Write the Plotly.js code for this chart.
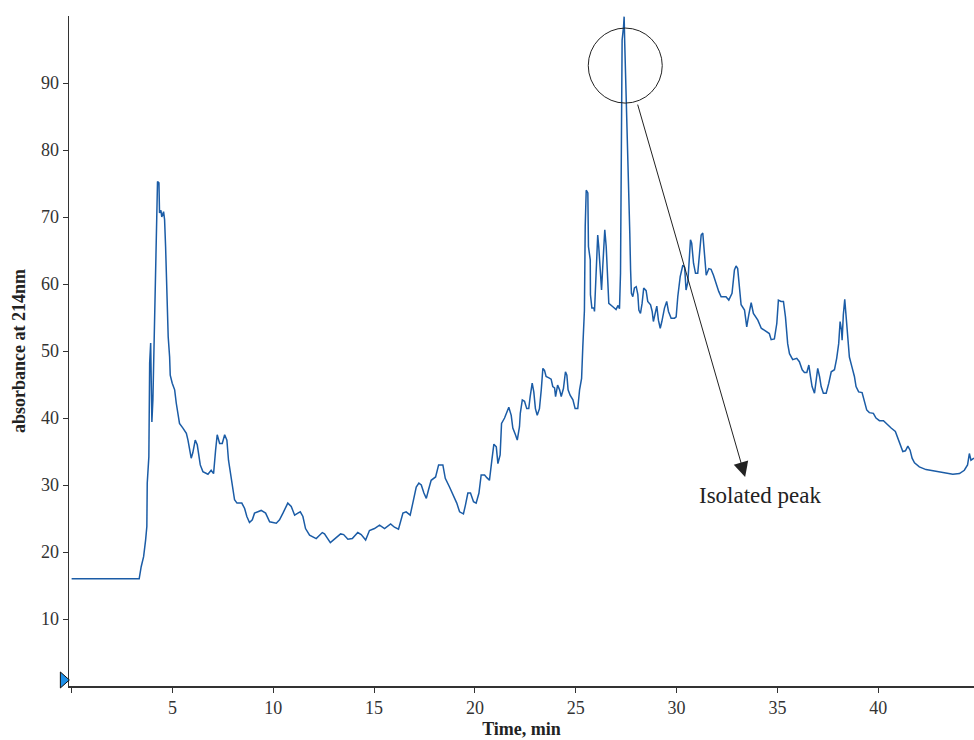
<!DOCTYPE html>
<html>
<head>
<meta charset="utf-8">
<script src="https://cdn.plot.ly/plotly-3.0.1.min.js"></script>
<style>html,body{margin:0;padding:0;background:#fff;}#chart{width:974px;height:740px;}</style>
</head>
<body>
<div id="chart"></div>
<script>
// Time (min)
const time = [
0, 3.35, 3.45, 3.57, 3.67, 3.73, 3.75, 3.83, 3.87, 3.92, 3.95, 3.98, 4.03, 4.08, 4.11, 4.16, 4.20, 4.26, 4.33, 4.36,
4.43, 4.47, 4.56, 4.61, 4.66, 4.73, 4.79, 4.86, 4.89, 4.99, 5.11, 5.19, 5.27, 5.35, 5.52, 5.69, 5.77, 5.85, 5.93, 6.01,
6.13, 6.23, 6.30, 6.38, 6.51, 6.76, 6.92, 7.04, 7.14, 7.22, 7.34, 7.47, 7.59, 7.70, 7.78, 7.88, 7.97, 8.08, 8.20, 8.44,
8.58, 8.69, 8.82, 8.96, 9.07, 9.40, 9.62, 9.82, 10.15, 10.31, 10.48, 10.72, 10.89, 11.06, 11.22, 11.34, 11.47, 11.60, 11.80, 12.13,
12.43, 12.54, 12.83, 13.04, 13.34, 13.49, 13.70, 13.92, 14.19, 14.36, 14.58, 14.77, 15.02, 15.27, 15.52, 15.82, 16.01, 16.21, 16.43, 16.59,
16.79, 16.92, 17.09, 17.22, 17.34, 17.47, 17.59, 17.70, 17.83, 18.05, 18.20, 18.41, 18.53, 18.74, 18.94, 19.10, 19.24, 19.43, 19.53, 19.65,
19.78, 19.93, 20.06, 20.20, 20.31, 20.48, 20.59, 20.72, 20.84, 20.94, 21.06, 21.14, 21.25, 21.32, 21.47, 21.58, 21.68, 21.80, 21.88, 22.01,
22.10, 22.21, 22.25, 22.35, 22.46, 22.57, 22.67, 22.74, 22.84, 22.92, 23.00, 23.09, 23.20, 23.29, 23.37, 23.45, 23.53, 23.67, 23.78, 23.86,
23.95, 24.00, 24.10, 24.20, 24.28, 24.39, 24.49, 24.56, 24.62, 24.72, 24.86, 24.97, 25.10, 25.19, 25.29, 25.35, 25.43, 25.47, 25.52, 25.60,
25.63, 25.72, 25.73, 25.80, 25.90, 25.93, 25.98, 26.04, 26.09, 26.14, 26.21, 26.28, 26.34, 26.39, 26.44, 26.51, 26.57, 26.64, 26.84, 27.00,
27.10, 27.17, 27.22, 27.25, 27.30, 27.37, 27.40, 27.43, 27.50, 27.58, 27.63, 27.68, 27.72, 27.76, 27.83, 27.91, 28.00, 28.08, 28.13, 28.21,
28.29, 28.37, 28.49, 28.57, 28.71, 28.79, 28.85, 28.95, 29.02, 29.10, 29.19, 29.27, 29.40, 29.51, 29.60, 29.73, 29.90, 29.98, 30.06, 30.18,
30.31, 30.40, 30.47, 30.56, 30.64, 30.69, 30.75, 30.84, 30.94, 31.05, 31.14, 31.22, 31.30, 31.39, 31.47, 31.60, 31.71, 31.83, 31.96, 32.09,
32.21, 32.45, 32.59, 32.75, 32.87, 32.95, 33.03, 33.12, 33.20, 33.37, 33.48, 33.58, 33.70, 33.81, 34.03, 34.20, 34.44, 34.60, 34.69, 34.85,
34.97, 35.05, 35.18, 35.30, 35.40, 35.51, 35.60, 35.76, 35.96, 36.09, 36.23, 36.34, 36.46, 36.56, 36.64, 36.72, 36.84, 36.92, 37.00, 37.09,
37.17, 37.28, 37.42, 37.55, 37.67, 37.83, 37.94, 38.04, 38.11, 38.18, 38.21, 38.27, 38.34, 38.41, 38.49, 38.57, 38.69, 38.82, 38.90, 39.03,
39.20, 39.32, 39.43, 39.56, 39.76, 39.89, 40.06, 40.26, 40.39, 40.64, 40.85, 40.97, 41.14, 41.22, 41.35, 41.47, 41.58, 41.68, 41.80, 42.04,
42.37, 42.87, 43.20, 43.70, 44.03, 44.27, 44.43, 44.52, 44.60, 44.75
];
// Absorbance at 214 nm
const absorbance = [
16.0, 16.0, 17.8, 19.3, 21.8, 23.8, 30.3, 34.2, 48.2, 51.2, 45.2, 39.4, 42.7, 49.9, 55.1, 57.6, 66.1, 75.3, 75.1, 70.6,
71.0, 70.0, 70.8, 69.6, 65.6, 59.1, 52.1, 49.1, 46.4, 45.2, 44.2, 42.2, 40.7, 39.2, 38.5, 37.7, 36.7, 35.2, 34.0, 34.8,
36.7, 36.0, 34.2, 33.0, 32.0, 31.6, 32.2, 31.7, 35.2, 37.5, 36.2, 36.2, 37.5, 36.7, 33.7, 31.7, 29.7, 27.8, 27.3, 27.3,
26.5, 25.3, 24.4, 24.8, 25.8, 26.2, 25.8, 24.5, 24.3, 24.8, 25.8, 27.3, 26.8, 25.5, 25.8, 26.0, 25.3, 23.5, 22.5, 22.0,
22.9, 22.7, 21.4, 21.9, 22.7, 22.6, 21.9, 22.0, 22.9, 22.6, 21.8, 23.2, 23.5, 24.0, 23.5, 24.2, 23.7, 23.4, 25.8, 26.0,
25.5, 27.3, 29.7, 30.3, 30.0, 28.8, 28.0, 29.3, 30.7, 31.2, 33.0, 33.0, 31.0, 29.7, 28.5, 27.3, 26.0, 25.7, 27.0, 28.8,
28.8, 27.5, 27.3, 28.8, 31.5, 31.5, 31.1, 30.7, 33.7, 36.1, 35.7, 33.2, 34.5, 39.2, 40.0, 40.9, 41.6, 40.4, 38.5, 37.5,
36.7, 38.7, 40.7, 42.7, 42.5, 41.4, 41.4, 43.2, 45.2, 43.9, 41.4, 40.4, 41.4, 44.2, 47.4, 47.1, 46.2, 46.0, 45.8, 44.7,
44.5, 43.2, 44.9, 44.2, 43.2, 44.4, 46.9, 46.4, 44.2, 43.4, 42.7, 41.4, 41.4, 44.2, 45.9, 50.6, 56.0, 68.6, 74.0, 73.6,
65.6, 63.6, 58.4, 56.4, 56.4, 55.9, 59.1, 63.1, 67.3, 65.6, 62.6, 59.1, 62.6, 66.6, 68.1, 65.6, 60.6, 57.1, 56.6, 56.2,
56.8, 56.3, 61.6, 79.0, 96.4, 98.4, 99.9, 95.9, 88.4, 80.0, 76.6, 67.6, 62.1, 58.6, 58.1, 59.4, 59.6, 58.4, 56.1, 55.6,
57.1, 59.4, 59.0, 57.4, 56.9, 55.9, 54.4, 55.9, 56.7, 54.6, 53.4, 54.4, 56.4, 57.4, 55.9, 54.9, 54.9, 55.1, 58.1, 61.1,
62.8, 62.5, 59.1, 60.3, 63.6, 66.6, 66.1, 63.1, 61.6, 61.6, 64.6, 67.3, 67.6, 64.8, 61.3, 62.3, 62.2, 61.3, 59.9, 58.9,
58.1, 58.1, 57.6, 58.6, 62.1, 62.7, 62.3, 59.1, 56.9, 56.1, 53.6, 55.4, 57.2, 55.6, 54.6, 53.4, 52.9, 52.6, 51.7, 51.8,
54.1, 57.6, 57.4, 57.4, 55.1, 51.1, 49.6, 48.7, 48.9, 48.4, 47.2, 46.8, 46.8, 47.9, 46.2, 44.7, 43.7, 45.2, 47.4, 46.2,
44.7, 43.7, 43.7, 45.2, 46.9, 47.2, 48.9, 51.1, 54.4, 53.1, 51.6, 55.4, 57.7, 55.1, 52.1, 49.1, 47.7, 46.2, 44.7, 43.9,
43.8, 42.2, 41.2, 40.8, 40.7, 40.0, 39.6, 39.6, 39.2, 38.5, 38.0, 37.0, 35.7, 35.0, 35.1, 35.8, 35.2, 34.0, 33.3, 32.7,
32.3, 32.0, 31.8, 31.6, 31.7, 32.2, 33.0, 34.7, 33.7, 34.0
];
// Tick labels
const xTickVals = [0, 5, 10, 15, 20, 25, 30, 35, 40];
const xTickText = ['', '5', '10', '15', '20', '25', '30', '35', '40'];
const yTickVals = [10, 20, 30, 40, 50, 60, 70, 80, 90];
const yTickText = ['10', '20', '30', '40', '50', '60', '70', '80', '90'];
// Annotation content
const peakLabel = 'Isolated peak';
const peakLabelPos = [34.15, 28.4];
const peakCircle = [25.62, 87.0, 29.29, 98.2];   // x0, y0, x1, y1
const arrowTail = [28.05, 87.0];
const arrowHead = [33.40, 31.2];
const startMarker = [-0.36, 0.9];

const xRange = [-0.13, 44.75];
const yRange = [0, 100];
const serif = '"Liberation Serif", "Times New Roman", serif';

// start marker sits left of the axis, so place it in paper coordinates (not clipped)
const markerPaperX = (startMarker[0] - xRange[0]) / (xRange[1] - xRange[0]);
const markerPaperY = (startMarker[1] - yRange[0]) / (yRange[1] - yRange[0]);

const traces = [
  {
    x: time, y: absorbance, type: 'scatter', mode: 'lines',
    line: {color: '#1b5ca6', width: 1.5},
    hoverinfo: 'skip', showlegend: false
  }
];

const layout = {
  width: 974, height: 740,
  margin: {l: 69, r: 0, t: 16, b: 54},
  paper_bgcolor: '#fff', plot_bgcolor: '#fff',
  font: {family: serif, color: '#333', size: 18},
  showlegend: false,
  xaxis: {
    range: xRange,
    tickmode: 'array', tickvals: xTickVals, ticktext: xTickText,
    ticks: 'outside', ticklen: 5, tickwidth: 1, tickcolor: '#333',
    showline: true, linecolor: '#333', linewidth: 1.5,
    showgrid: false, zeroline: false,
    tickfont: {family: serif, size: 18, color: '#333'},
    title: {text: '<b>Time, min</b>', font: {family: serif, size: 18, color: '#222'}, standoff: 5}
  },
  yaxis: {
    range: yRange,
    tickmode: 'array', tickvals: yTickVals, ticktext: yTickText,
    ticks: 'outside', ticklen: 5, tickwidth: 1, tickcolor: '#333',
    showline: true, linecolor: '#333', linewidth: 1.5,
    showgrid: false, zeroline: false,
    tickfont: {family: serif, size: 18, color: '#333'},
    title: {text: '<b>absorbance at 214nm</b>', font: {family: serif, size: 18, color: '#222'}, standoff: 10}
  },
  shapes: [
    {type: 'circle', xref: 'x', yref: 'y',
     x0: peakCircle[0], y0: peakCircle[1], x1: peakCircle[2], y1: peakCircle[3],
     line: {color: '#222', width: 1}},
    {type: 'path', xref: 'paper', yref: 'paper', xsizemode: 'pixel', ysizemode: 'pixel',
     xanchor: markerPaperX, yanchor: markerPaperY,
     path: 'M-4,-8 L5,0 L-4,8 Z',
     fillcolor: '#1e90e8', line: {color: '#111', width: 1}, layer: 'above'}
  ],
  annotations: [
    {x: arrowHead[0], y: arrowHead[1], xref: 'x', yref: 'y',
     ax: arrowTail[0], ay: arrowTail[1], axref: 'x', ayref: 'y',
     text: '', showarrow: true, arrowhead: 2, arrowsize: 3, arrowwidth: 1, arrowcolor: '#222'},
    {x: peakLabelPos[0], y: peakLabelPos[1], xref: 'x', yref: 'y',
     text: peakLabel, showarrow: false,
     font: {family: serif, size: 23, color: '#222'}}
  ]
};

Plotly.newPlot('chart', traces, layout, {displayModeBar: false, staticPlot: true});
</script>
</body>
</html>
